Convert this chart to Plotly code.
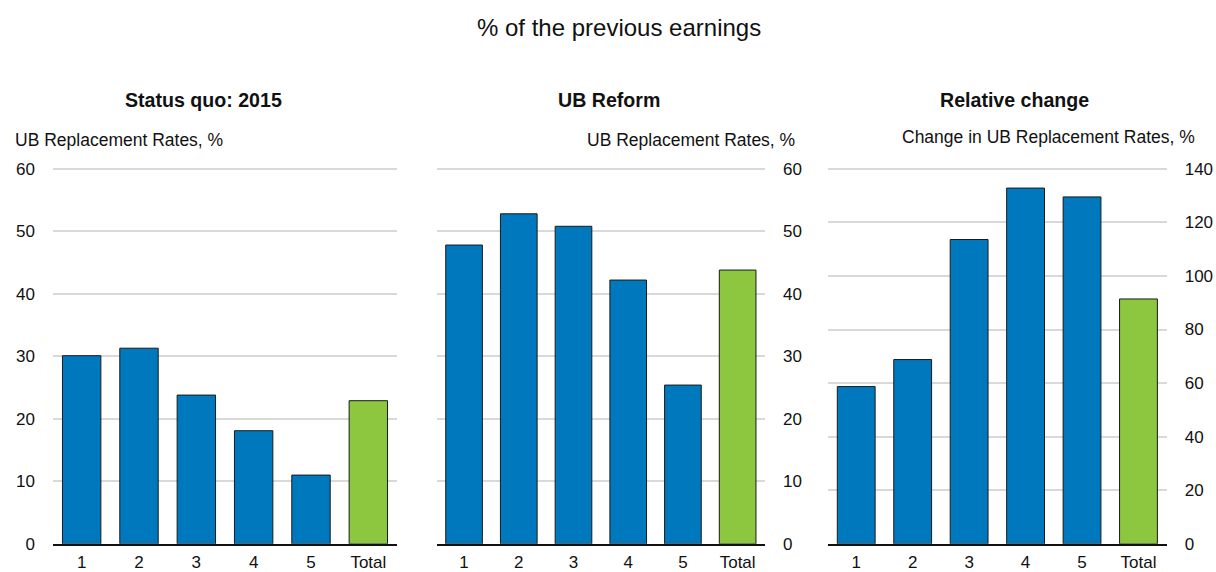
import plotly.graph_objects as go

categories = ["1", "2", "3", "4", "5", "Total"]
status_quo_2015 = [30.1, 31.3, 23.8, 18.1, 11.0, 22.9]
ub_reform = [47.8, 52.8, 50.8, 42.2, 25.4, 43.8]
relative_change = [58.7, 68.8, 113.6, 132.8, 129.5, 91.4]

panel_titles = ["Status quo: 2015", "UB Reform", "Relative change"]
axis_titles = ["UB Replacement Rates, %", "UB Replacement Rates, %", "Change in UB Replacement Rates, %"]
main_title = "% of the previous earnings"

BLUE = "#0078BE"
GREEN = "#8DC63F"
GRID = "#D9D9D9"
FONT = "Liberation Sans, Arial, sans-serif"
W, H = 1216, 572

colors = [BLUE] * 5 + [GREEN]

fig = go.Figure()
series = [status_quo_2015, ub_reform, relative_change]
for i, vals in enumerate(series):
    sfx = "" if i == 0 else str(i + 1)
    fig.add_trace(go.Bar(
        x=categories, y=vals, xaxis="x" + sfx, yaxis="y" + sfx,
        marker=dict(color=colors, line=dict(color="#1a1a1a", width=1)),
        showlegend=False, hoverinfo="x+y",
    ))

def px_x(p):
    return p / W

def px_y(p):
    # vertical placement, corrected for the observed rendering offset
    return 1 - ((p - 6.8) / 0.971) / H

y_dom = [px_y(546), px_y(167.4)]
x_doms = [[px_x(53), px_x(397)], [px_x(436.7), px_x(765)], [px_x(828), px_x(1166.7)]]
ranges = [[0, 60.3], [0, 60.3], [0, 140.7]]
dticks = [10, 10, 20]
sides = ["left", "right", "right"]

layout = dict(
    width=W, height=H,
    margin=dict(l=0, r=0, t=0, b=0),
    paper_bgcolor="white", plot_bgcolor="white",
    font=dict(family=FONT, size=17, color="#111111"),
    bargap=0.33,
)
for i in range(3):
    sfx = "" if i == 0 else str(i + 1)
    layout["xaxis" + sfx] = dict(
        domain=x_doms[i], anchor="y" + sfx,
        showline=True, linecolor="#111111", linewidth=2,
        showgrid=False, ticks="", ticklabelstandoff=2,
        tickfont=dict(size=17, family=FONT, color="#111111"),
        fixedrange=True,
    )
    layout["yaxis" + sfx] = dict(
        domain=y_dom, anchor="x" + sfx, side=sides[i],
        range=ranges[i], dtick=dticks[i], tick0=0,
        showgrid=True, gridcolor=GRID, gridwidth=2,
        zeroline=False, showline=False, ticks="",
        ticklabelstandoff=17,
        tickfont=dict(size=17, family=FONT, color="#111111"),
        fixedrange=True,
    )
fig.update_layout(**layout)

ann = []
ann.append(dict(text=main_title, x=px_x(618.5), y=px_y(27), xref="paper", yref="paper",
                xanchor="center", yanchor="middle", showarrow=False,
                font=dict(size=24, family=FONT, color="#111111")))
title_centers = [(203.5, 100), (608.5, 100), (1014, 100)]
for t, (cx, cy) in zip(panel_titles, title_centers):
    ann.append(dict(text="<b>" + t + "</b>", x=px_x(cx), y=px_y(cy), xref="paper", yref="paper",
                    xanchor="center", yanchor="middle", showarrow=False,
                    font=dict(size=19.6, family=FONT, color="#111111")))
axis_title_pos = [(13, 140, "left"), (797, 140, "right"), (1197, 137, "right")]
for t, (ax, ay, anc) in zip(axis_titles, axis_title_pos):
    ann.append(dict(text=t, x=px_x(ax), y=px_y(ay), xref="paper", yref="paper",
                    xanchor=anc, yanchor="middle", showarrow=False,
                    font=dict(size=17.5, family=FONT, color="#111111")))
fig.update_layout(annotations=ann)

fig.write_html(
    "out.html",
    config={"displayModeBar": False},
    post_script="document.body.style.margin='0';document.body.style.padding='0';",
)
